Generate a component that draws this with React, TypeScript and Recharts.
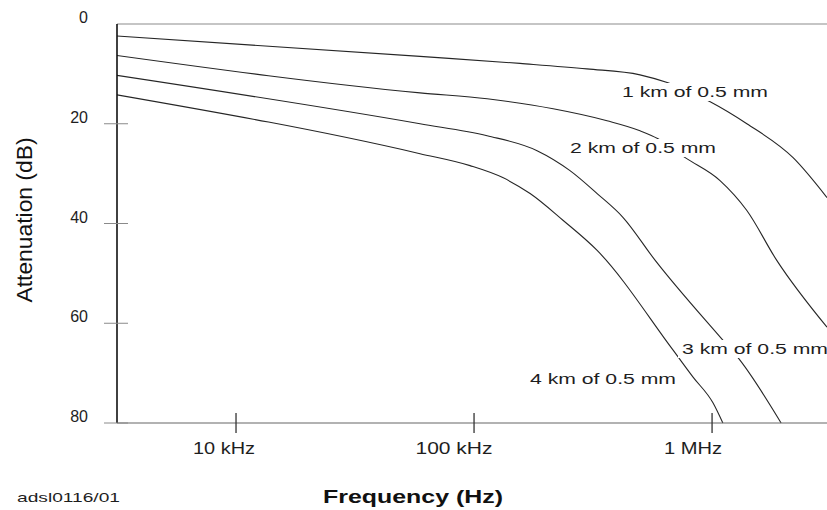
import { LineChart, Line, XAxis, YAxis, ReferenceLine } from "recharts";

// frequency in Hz, attenuation in dB
const freq1km = [3160, 59300, 156000, 298000, 498000, 653000, 982000, 1400000, 2190000, 3040000];
const att1km = [2.4, 6.5, 7.9, 9.0, 10.2, 11.8, 15.6, 20, 26.8, 34.8];

const freq2km = [3160, 59300, 113500, 215000, 362000, 498000, 593000, 771000, 1080000, 1400000, 1870000, 3040000];
const att2km = [6.3, 13.8, 15, 17, 19.4, 21.4, 23, 26.8, 31.4, 37.4, 47.4, 60.8];

const freq3km = [3160, 59300, 113500, 184000, 253000, 329000, 423000, 577000, 1110000, 1290000, 1950000];
const att3km = [10.3, 20, 22.4, 25.4, 29.4, 34, 38.8, 47.4, 63.4, 67, 80];

const freq4km = [3160, 59300, 96200, 132000, 172000, 237000, 329000, 686000, 832000, 1010000, 1110000];
const att4km = [14.2, 26, 28.4, 30.8, 34, 39.4, 45.4, 65.4, 70.8, 76, 80];

const curveNames = ["1 km of 0.5 mm", "2 km of 0.5 mm", "3 km of 0.5 mm", "4 km of 0.5 mm"];

const xTicks = [10000, 100000, 1000000];
const xTickLabels = ["10 kHz", "100 kHz", "1 MHz"];
const yTicks = [0, 20, 40, 60, 80];

const toPoints = (f: number[], a: number[]) => f.map((v, i) => ({ f: v, db: a[i] }));

const series = [
  toPoints(freq1km, att1km),
  toPoints(freq2km, att2km),
  toPoints(freq3km, att3km),
  toPoints(freq4km, att4km),
];

const TEXT = "#1e1e1e";

// label placement for the ticks and the curve names
const xLabelShift = [-12, -20, -19];
const xLabelWidth = [62, 77, 58];
const curveLabelPos = [
  { x: 622, y: 97 },
  { x: 570, y: 153 },
  { x: 682, y: 354 },
  { x: 530, y: 384 },
];

function FreqTick(props: any) {
  const { x, y, payload } = props;
  const i = xTicks.indexOf(payload.value);
  return (
    <g>
      <line x1={x} x2={x} y1={y - 10} y2={y + 10} stroke="#333" strokeWidth={1.3} />
      <text
        x={x + xLabelShift[i]}
        y={y + 31}
        textAnchor="middle"
        fontFamily="Liberation Sans, Arial, sans-serif"
        fontSize={16}
        fill={TEXT}
        textLength={xLabelWidth[i]}
        lengthAdjust="spacingAndGlyphs"
      >
        {xTickLabels[i]}
      </text>
    </g>
  );
}

function DbTick(props: any) {
  const { x, y, payload } = props;
  return (
    <g>
      {payload.value !== 0 && (
        <line x1={x - 13} x2={x + 11} y1={y} y2={y} stroke="#8a8a8a" strokeWidth={1} />
      )}
      <text
        x={x - 29}
        y={y - 1}
        textAnchor="end"
        fontFamily="Liberation Sans, Arial, sans-serif"
        fontSize={16}
        fill={TEXT}
      >
        {payload.value}
      </text>
    </g>
  );
}

export default function App() {
  return (
    <div
      style={{
        position: "absolute",
        left: 0,
        top: 0,
        width: 827,
        height: 510,
        background: "#fff",
        overflow: "hidden",
      }}
    >
      <LineChart width={827} height={510} margin={{ top: 24, right: 0, bottom: 47, left: 57 }}>
        <XAxis
          dataKey="f"
          type="number"
          scale="log"
          domain={[3162, 3040000]}
          allowDataOverflow
          ticks={xTicks}
          tick={<FreqTick />}
          tickLine={false}
          tickSize={0}
          tickMargin={0}
          axisLine={{ stroke: "#666", strokeWidth: 1.2 }}
          height={40}
        />
        <YAxis
          dataKey="db"
          type="number"
          reversed
          domain={[0, 80]}
          ticks={yTicks}
          tick={<DbTick />}
          tickLine={false}
          tickSize={0}
          tickMargin={0}
          axisLine={{ stroke: "#111", strokeWidth: 1.6 }}
          width={60}
        />
        <ReferenceLine y={0} stroke="#8c8c8c" strokeWidth={1.2} />
        {series.map((pts, i) => (
          <Line
            key={curveNames[i]}
            data={pts}
            dataKey="db"
            type="monotone"
            stroke="#262626"
            strokeWidth={1.1}
            dot={false}
            isAnimationActive={false}
          />
        ))}
      </LineChart>

      <svg
        width={827}
        height={510}
        style={{ position: "absolute", left: 0, top: 0, pointerEvents: "none" }}
      >
        {curveNames.map((name, i) => (
          <g key={name}>
            <rect
              x={curveLabelPos[i].x - 4}
              y={curveLabelPos[i].y - 14}
              width={154}
              height={18}
              fill="#fff"
            />
            <text
              x={curveLabelPos[i].x}
              y={curveLabelPos[i].y}
              fontFamily="Liberation Sans, Arial, sans-serif"
              fontSize={15}
              fill={TEXT}
              textLength={146}
              lengthAdjust="spacingAndGlyphs"
            >
              {name}
            </text>
          </g>
        ))}
        <text
          transform="translate(32,220) rotate(-90)"
          textAnchor="middle"
          fontFamily="Liberation Sans, Arial, sans-serif"
          fontSize={22}
          fill="#111"
          textLength={165}
          lengthAdjust="spacingAndGlyphs"
        >
          Attenuation (dB)
        </text>
        <text
          x={323}
          y={503}
          fontFamily="Liberation Sans, Arial, sans-serif"
          fontWeight="bold"
          fontSize={18}
          fill="#111"
          textLength={180}
          lengthAdjust="spacingAndGlyphs"
        >
          Frequency (Hz)
        </text>
        <text
          x={17}
          y={502}
          fontFamily="Liberation Sans, Arial, sans-serif"
          fontSize={13}
          fill={TEXT}
          textLength={103}
          lengthAdjust="spacingAndGlyphs"
        >
          adsl0116/01
        </text>
      </svg>
    </div>
  );
}
